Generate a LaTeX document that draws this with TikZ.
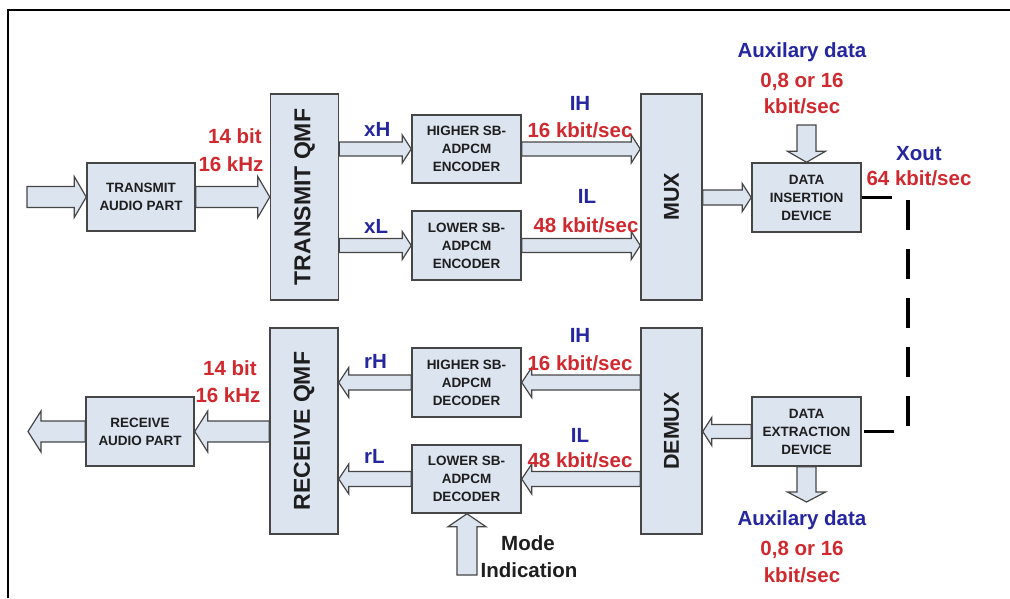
\documentclass[tikz,border=0pt]{standalone}
\usepackage{fontspec}
\usepackage{graphicx}
\setmainfont{Liberation Sans}
\usetikzlibrary{calc}
\definecolor{boxfill}{RGB}{220,228,240}
\definecolor{boxline}{RGB}{70,70,70}
\definecolor{labblue}{RGB}{38,38,160}
\definecolor{labred}{RGB}{208,42,48}
\definecolor{boxtext}{RGB}{30,30,30}
\tikzset{
  blk/.style={draw=boxline, fill=boxfill, line width=1.5pt, inner sep=0pt, align=center,
    text=boxtext, font=\fontsize{13.5}{18}\selectfont\bfseries},
  tallblk/.style={blk, minimum width=68pt, minimum height=206pt},
  qmffont/.style={font=\fontsize{23}{28}\selectfont\bfseries},
  muxfont/.style={font=\fontsize{21.5}{26}\selectfont\bfseries},
  bluelab/.style={inner sep=0pt, text=labblue, font=\fontsize{20.5}{24}\selectfont\bfseries},
  redlab/.style={inner sep=0pt, text=labred, font=\fontsize{20.5}{24}\selectfont\bfseries},
  blacklab/.style={inner sep=0pt, text=boxtext, font=\fontsize{20.5}{24}\selectfont\bfseries},
  barrow/.style={draw=boxline, fill=boxfill, line width=1.2pt, line join=miter},
  dashline/.style={draw=black, line width=3.5pt, dash pattern=on 30pt off 19pt}
}
% block arrows: #1 from, #2 to (head), #3 shaft half width, #4 head half width, #5 head length
\newcommand\rarr[5]{\filldraw[barrow] let \p1=(#1),\p2=(#2) in
  (\x1,\y1+#3pt) -- (\x2-#5pt,\y1+#3pt) -- (\x2-#5pt,\y1+#4pt) -- (\x2,\y1)
  -- (\x2-#5pt,\y1-#4pt) -- (\x2-#5pt,\y1-#3pt) -- (\x1,\y1-#3pt) -- cycle;}
\newcommand\larr[5]{\filldraw[barrow] let \p1=(#1),\p2=(#2) in
  (\x1,\y1+#3pt) -- (\x2+#5pt,\y1+#3pt) -- (\x2+#5pt,\y1+#4pt) -- (\x2,\y1)
  -- (\x2+#5pt,\y1-#4pt) -- (\x2+#5pt,\y1-#3pt) -- (\x1,\y1-#3pt) -- cycle;}
\newcommand\darr[5]{\filldraw[barrow] let \p1=(#1),\p2=(#2) in
  (\x1-#3pt,\y1) -- (\x1-#3pt,\y2+#5pt) -- (\x1-#4pt,\y2+#5pt) -- (\x1,\y2)
  -- (\x1+#4pt,\y2+#5pt) -- (\x1+#3pt,\y2+#5pt) -- (\x1+#3pt,\y1) -- cycle;}
\newcommand\uarr[5]{\filldraw[barrow] let \p1=(#1),\p2=(#2) in
  (\x1-#3pt,\y1) -- (\x1-#3pt,\y2-#5pt) -- (\x1-#4pt,\y2-#5pt) -- (\x1,\y2)
  -- (\x1+#4pt,\y2-#5pt) -- (\x1+#3pt,\y2-#5pt) -- (\x1+#3pt,\y1) -- cycle;}
\begin{document}
\begin{tikzpicture}[x=1pt,y=-1pt]
\useasboundingbox (0,0) rectangle (1010,598);
\fill[white] (0,0) rectangle (1010,598);
% frame
\draw[line width=1.5pt, black] (8,598) -- (8,10) -- (1010,10);

% transmit side blocks
\node[blk, minimum width=108pt, minimum height=68pt] (tap) at (141,197) {TRANSMIT\\AUDIO PART};
\node[tallblk, qmffont] (tqmf) at (304.5,197) {\rotatebox{90}{TRANSMIT QMF}};
\node[blk, minimum width=109pt, minimum height=68pt] (hse) at (466.5,149) {HIGHER SB-\\ADPCM\\ENCODER};
\node[blk, minimum width=109pt, minimum height=69pt] (lse) at (466.5,245.5) {LOWER SB-\\ADPCM\\ENCODER};
\node[tallblk, muxfont, minimum width=61pt] (mux) at (671.5,197) {\rotatebox{90}{MUX}};
\node[blk, minimum width=109pt, minimum height=69pt] (did) at (806.5,197.5) {DATA\\INSERTION\\DEVICE};

% receive side blocks
\node[blk, minimum width=108pt, minimum height=69pt] (rap) at (140,431.5) {RECEIVE\\AUDIO PART};
\node[tallblk, qmffont] (rqmf) at (304,431) {\rotatebox{90}{RECEIVE QMF}};
\node[blk, minimum width=109pt, minimum height=69pt] (hsd) at (466.5,382.5) {HIGHER SB-\\ADPCM\\DECODER};
\node[blk, minimum width=109pt, minimum height=68pt] (lsd) at (466.5,479) {LOWER SB-\\ADPCM\\DECODER};
\node[tallblk, muxfont, minimum width=61pt] (demux) at (671.5,431) {\rotatebox{90}{DEMUX}};
\node[blk, minimum width=109pt, minimum height=69pt] (ded) at (806.5,431.5) {DATA\\EXTRACTION\\DEVICE};

% free ends
\coordinate (in) at (27,197);
\coordinate (out) at (28,431.5);
\coordinate (auxin) at (806.5,125);
\coordinate (auxout) at (806.5,502);
\coordinate (modein) at (467,575);
\coordinate (c1) at (908,197.5);
\coordinate (c2) at (908,431.5);

% transmit arrows
\rarr{in}{tap.west}{10.5}{20.5}{12}
\rarr{tap.east}{tqmf.west |- tap.east}{10.5}{20.5}{12}
\rarr{tqmf.east |- hse.west}{hse.west}{7}{14}{9}
\rarr{tqmf.east |- lse.west}{lse.west}{7}{14}{9}
\rarr{hse.east}{mux.west |- hse.east}{7}{14}{9}
\rarr{lse.east}{mux.west |- lse.east}{7}{14}{9}
\rarr{mux.east |- did.west}{did.west}{7.5}{14}{9}
\darr{auxin}{did.north}{9.5}{19}{11}

% receive arrows
\larr{ded.west}{demux.east |- ded.west}{7}{14}{9}
\larr{demux.west |- hsd.east}{hsd.east}{7.5}{15}{10}
\larr{demux.west |- lsd.east}{lsd.east}{7.5}{15}{10}
\larr{hsd.west}{rqmf.east |- hsd.west}{7.5}{15}{10}
\larr{lsd.west}{rqmf.east |- lsd.west}{7.5}{15}{10}
\larr{rqmf.west |- rap.east}{rap.east}{10.5}{20.5}{13}
\larr{rap.west}{out}{10.5}{20.5}{13}
\uarr{modein}{lsd.south}{10}{19}{13}
\darr{ded.south}{auxout}{9.5}{19}{10}

% channel link
\draw[dashline] (did.east) -- (c1) -- (c2) -- (ded.east);

% labels transmit side
\node[redlab, anchor=base] (t14) at (235,143) {14 bit};
\node[redlab, anchor=base] (t16) at (231,171) {16 kHz};
\node[bluelab, anchor=base west] (txh) at (364,136) {xH};
\node[bluelab, anchor=base west] (txl) at (364,233) {xL};
\node[bluelab, anchor=base] (tih) at (580,110) {IH};
\node[redlab, anchor=base] (tihr) at (580,137) {16 kbit/sec};
\node[bluelab, anchor=base] (til) at (587,203) {IL};
\node[redlab, anchor=base] (tilr) at (586,232) {48 kbit/sec};
\node[bluelab, anchor=base] (aux1) at (802,57) {Auxilary data};
\node[redlab, anchor=base] (aux1b) at (802,87) {0,8 or 16};
\node[redlab, anchor=base] (aux1c) at (802,113) {kbit/sec};
\node[bluelab, anchor=base] (xout) at (919,160) {Xout};
\node[redlab, anchor=base] (xoutr) at (919,185) {64 kbit/sec};

% labels receive side
\node[redlab, anchor=base] (r14) at (230,375) {14 bit};
\node[redlab, anchor=base] (r16) at (228,402) {16 kHz};
\node[bluelab, anchor=base west] (rrh) at (364,368) {rH};
\node[bluelab, anchor=base west] (rrl) at (364,463) {rL};
\node[bluelab, anchor=base] (rih) at (580,342) {IH};
\node[redlab, anchor=base] (rihr) at (580,370) {16 kbit/sec};
\node[bluelab, anchor=base] (ril) at (580,442) {IL};
\node[redlab, anchor=base] (rilr) at (580,467) {48 kbit/sec};
\node[bluelab, anchor=base] (aux2) at (802,525) {Auxilary data};
\node[redlab, anchor=base] (aux2b) at (802,555) {0,8 or 16};
\node[redlab, anchor=base] (aux2c) at (802,582) {kbit/sec};
\node[blacklab, anchor=base] (mode) at (528,550) {Mode};
\node[blacklab, anchor=base] (modeind) at (529,577) {Indication};
\end{tikzpicture}
\end{document}
